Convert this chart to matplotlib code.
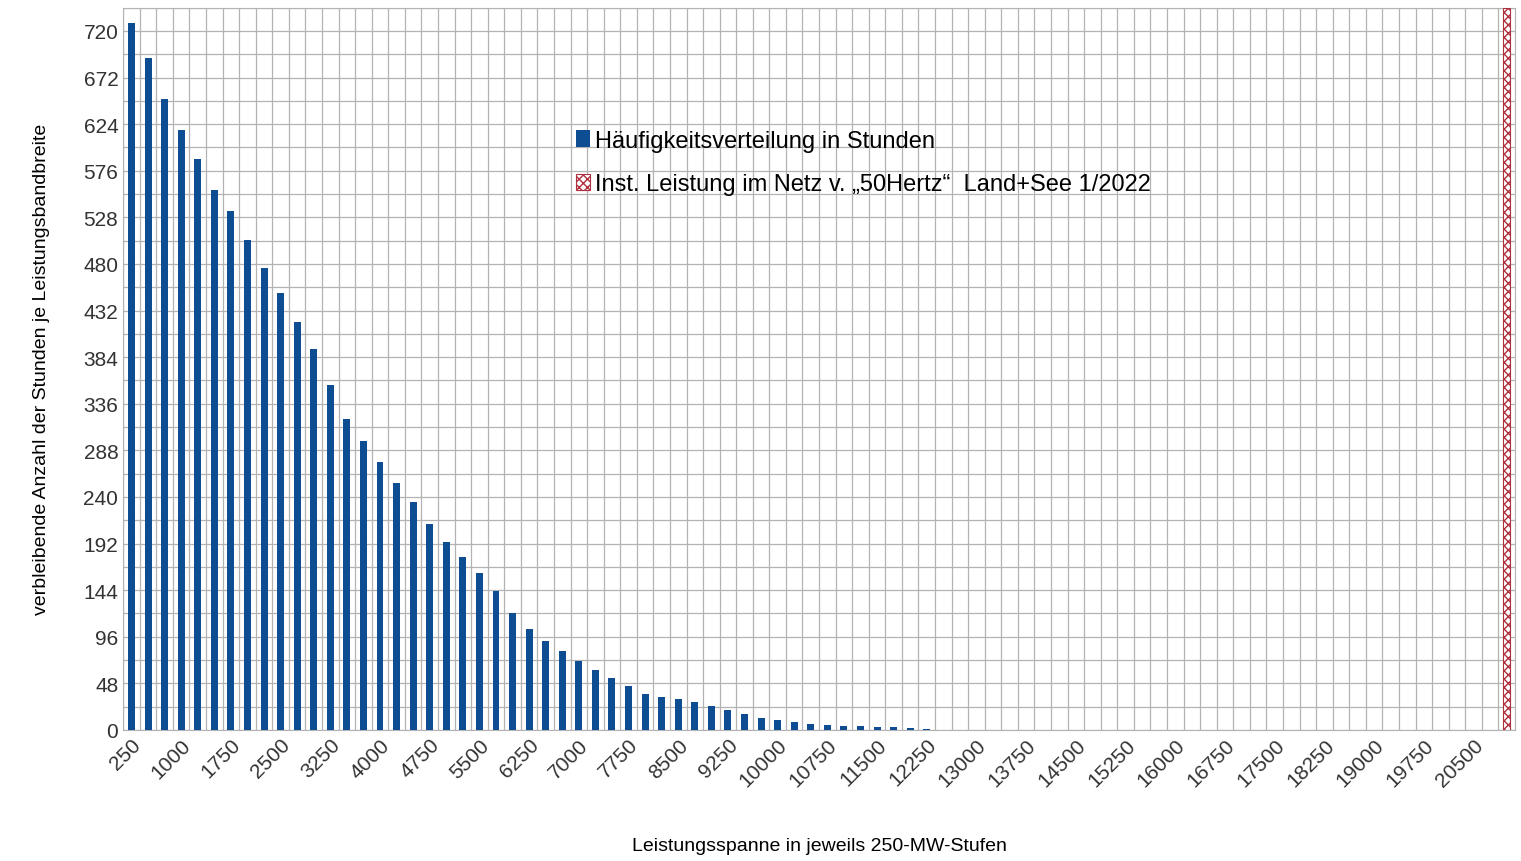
import numpy as np
import matplotlib.pyplot as plt

plt.rcParams['font.family'] = ['Liberation Sans', 'DejaVu Sans']

steps = list(range(250, 21001, 250))
hours_top = [728, 692, 650, 618, 588, 556, 535, 505, 476, 450, 420, 392, 355, 320, 298,
             276, 254, 235, 212, 194, 178, 162, 143, 120, 104, 92, 81, 71, 62, 54, 45, 37,
             34, 32, 29, 25, 21, 16, 12, 10, 8, 6, 5, 4, 4, 3, 3, 2, 1]
hours = hours_top + [0] * (len(steps) - len(hours_top))
inst_value = 744
inst_index = len(steps) - 1

fig = plt.figure(figsize=(15.21, 8.62), dpi=100)
ax = fig.add_axes([0.081, 0.152, 0.915, 0.838])
x = np.arange(len(steps))
ax.bar(x, hours, width=0.42, color='#0e4d92', label='Häufigkeitsverteilung in Stunden', zorder=3)
ax.bar([inst_index], [inst_value], width=0.42, color='white', edgecolor='#b03040',
       hatch='xxxx', linewidth=0.8, label='Inst. Leistung im Netz v. „50Hertz“  Land+See 1/2022', zorder=3)

ax.set_xlim(-0.5, len(steps) - 0.5)
ax.set_ylim(0, 744)
ax.set_yticks(range(0, 721, 48))
ax.set_yticks(range(0, 745, 24), minor=True)
ax.set_xticks(x[::3])
ax.set_xticklabels([str(s) for s in steps[::3]], rotation=45, ha='right', rotation_mode='anchor')
ax.set_xticks(x - 0.5, minor=True)
ax.grid(which='both', axis='y', color='#b3b3b3', linewidth=0.9, zorder=0)
ax.grid(which='minor', axis='x', color='#b3b3b3', linewidth=0.9, zorder=0)
ax.tick_params(which='both', length=0, labelsize=15, colors='#333333')
for s in ax.spines.values():
    s.set_color('#b3b3b3')

ax.set_xlabel('Leistungsspanne in jeweils 250-MW-Stufen', fontsize=14, labelpad=34)
ax.set_ylabel('verbleibende Anzahl der Stunden je Leistungsbandbreite', fontsize=14, labelpad=24)
ax.legend(loc='upper left', bbox_to_anchor=(0.31, 0.86), frameon=False, fontsize=17,
          handlelength=0.6, handletextpad=0.2, labelspacing=0.9)

plt.savefig('out.png')
